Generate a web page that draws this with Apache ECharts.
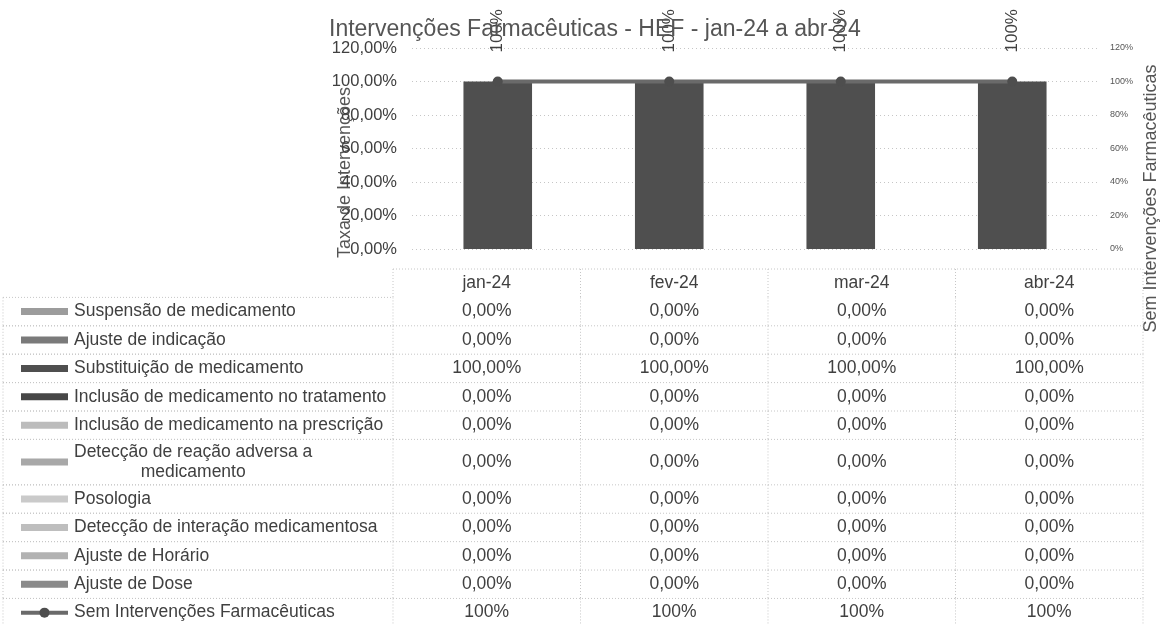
<!DOCTYPE html>
<html>
<head>
<meta charset="utf-8">
<script src="https://cdn.jsdelivr.net/npm/echarts@6/dist/echarts.min.js"></script>
<style>
  html, body { margin: 0; padding: 0; background: #ffffff; }
  #chart { width: 1160px; height: 624px; }
</style>
</head>
<body>
<div id="chart"></div>
<script>
// Months shown on the category axis and as the data-table header
const months = ['jan-24', 'fev-24', 'mar-24', 'abr-24'];

// Share of each type of pharmaceutical intervention (%)
const suspensao = [0, 0, 0, 0];
const ajusteIndicacao = [0, 0, 0, 0];
const substituicao = [100, 100, 100, 100];
const inclusaoTratamento = [0, 0, 0, 0];
const inclusaoPrescricao = [0, 0, 0, 0];
const reacaoAdversa = [0, 0, 0, 0];
const posologia = [0, 0, 0, 0];
const interacao = [0, 0, 0, 0];
const ajusteHorario = [0, 0, 0, 0];
const ajusteDose = [0, 0, 0, 0];

// Months without any pharmaceutical intervention (%), right axis
const semIntervencoes = [100, 100, 100, 100];

// Stacked column series, in table order
const barSeriesDefs = [
  { name: 'Suspensão de medicamento', data: suspensao },
  { name: 'Ajuste de indicação', data: ajusteIndicacao },
  { name: 'Substituição de medicamento', data: substituicao },
  { name: 'Inclusão de medicamento no tratamento', data: inclusaoTratamento },
  { name: 'Inclusão de medicamento na prescrição', data: inclusaoPrescricao },
  { name: 'Detecção de reação adversa a\nmedicamento', data: reacaoAdversa },
  { name: 'Posologia', data: posologia },
  { name: 'Detecção de interação medicamentosa', data: interacao },
  { name: 'Ajuste de Horário', data: ajusteHorario },
  { name: 'Ajuste de Dose', data: ajusteDose }
];
const lineSeriesDef = { name: 'Sem Intervenções Farmacêuticas', data: semIntervencoes };

// Grey shades for each series (same order as above)
const barColors = ['#9c9c9c', '#7a7a7a', '#4f4f4f', '#474747', '#bcbcbc',
                   '#a8a8a8', '#cacaca', '#bebebe', '#b2b2b2', '#8a8a8a'];
const lineColor = '#6a6a6a';
const markerColor = '#4e4e4e';

const FONT = '"Liberation Sans", Arial, sans-serif';
const TEXT = '#404040';
const GRID_LINE = '#c6c6c6';
const TABLE_FONT_SIZE = 17.5;

const pct2 = v => v.toFixed(2).replace('.', ',') + '%';
const pct0 = v => Math.round(v) + '%';

// ---- data table layout (rows in units of one text line) ----
const tableRows = [{ header: true }]
  .concat(barSeriesDefs.map((d, i) => ({ def: d, kind: 'bar', color: barColors[i] })))
  .concat([{ def: lineSeriesDef, kind: 'line' }]);
const rowHeights = tableRows.map(r => (r.def && r.def.name.indexOf('\n') >= 0) ? 1.6 : 1);
const rowTops = [];
rowHeights.reduce((acc, h, i) => { rowTops[i] = acc; return acc + h; }, 0);
const totalUnits = rowHeights.reduce((a, b) => a + b, 0);
const ROW_PX = 28.4;

const measureCtx = document.createElement('canvas').getContext('2d');
measureCtx.font = TABLE_FONT_SIZE + 'px ' + FONT;

function dotted(x1, y1, x2, y2) {
  return {
    type: 'line',
    shape: { x1: x1, y1: y1, x2: x2, y2: y2 },
    style: { stroke: GRID_LINE, lineWidth: 1, lineDash: [1, 2] },
    silent: true
  };
}

function cellText(text, x, y, align) {
  return {
    type: 'text',
    style: { text: text, x: x, y: y, align: align || 'center', verticalAlign: 'middle',
             fontSize: TABLE_FONT_SIZE, fontFamily: FONT, fill: TEXT, lineHeight: 20 }
  };
}

function renderTableRow(params, api) {
  const i = params.dataIndex;
  const row = tableRows[i];
  const cs = params.coordSys;
  const yTop = api.coord([0, rowTops[i]])[1];
  const yBot = api.coord([0, rowTops[i] + rowHeights[i]])[1];
  const yc = (yTop + yBot) / 2;
  const band = api.size([1, 0])[0];
  const children = [];
  const colX = months.map((m, c) => api.coord([c, rowTops[i]])[0]);

  // column separators
  for (let c = 0; c <= months.length; c++) {
    const x = cs.x + c * band;
    children.push(dotted(x, yTop, x, yBot));
  }

  if (row.header) {
    children.push(dotted(cs.x, yTop, cs.x + cs.width, yTop));
    months.forEach((m, c) => children.push(cellText(m, colX[c], yc)));
    return { type: 'group', children: children };
  }

  const labelLeft = 3;
  children.push(dotted(labelLeft, yTop, cs.x, yTop));
  children.push(dotted(labelLeft, yBot, cs.x + cs.width, yBot));
  children.push(dotted(labelLeft, yTop, labelLeft, yBot));

  // legend key
  if (row.kind === 'bar') {
    children.push({ type: 'rect', shape: { x: 21, y: yc - 3.5, width: 47, height: 7 },
                    style: { fill: row.color } });
  } else {
    children.push({ type: 'line', shape: { x1: 21, y1: yc, x2: 68, y2: yc },
                    style: { stroke: lineColor, lineWidth: 4 } });
    children.push({ type: 'circle', shape: { cx: 44.5, cy: yc, r: 5 },
                    style: { fill: markerColor } });
  }

  // series name
  const name = row.def.name;
  const lines = name.split('\n');
  const firstW = measureCtx.measureText(lines[0]).width;
  children.push(lines.length > 1
    ? cellText(name, 74 + firstW / 2, yc, 'center')
    : cellText(name, 74, yc, 'left'));

  // values
  const fmt = row.kind === 'bar' ? pct2 : pct0;
  row.def.data.forEach((v, c) => children.push(cellText(fmt(v), colX[c], yc)));

  return { type: 'group', children: children };
}

const series = barSeriesDefs.map((d, i) => ({
  name: d.name,
  type: 'bar',
  stack: 'intervencoes',
  xAxisIndex: 0,
  yAxisIndex: 0,
  barWidth: '40%',
  data: d.data,
  itemStyle: { color: barColors[i] }
}));

series.push({
  name: lineSeriesDef.name,
  type: 'line',
  xAxisIndex: 0,
  yAxisIndex: 1,
  data: lineSeriesDef.data,
  symbol: 'circle',
  symbolSize: 10,
  lineStyle: { color: lineColor, width: 4 },
  itemStyle: { color: markerColor },
  z: 5,
  label: {
    show: true,
    position: 'top',
    distance: 24,
    rotate: 90,
    align: 'left',
    verticalAlign: 'middle',
    formatter: p => pct0(p.value),
    fontSize: 17,
    fontFamily: FONT,
    color: TEXT
  }
});

series.push({
  type: 'custom',
  xAxisIndex: 1,
  yAxisIndex: 2,
  clip: false,
  silent: true,
  renderItem: renderTableRow,
  data: tableRows.map((r, i) => [0, rowTops[i]])
});

const option = {
  animation: false,
  backgroundColor: '#ffffff',
  textStyle: { fontFamily: FONT },
  title: {
    text: 'Intervenções Farmacêuticas - HEF - jan-24 a abr-24',
    left: 324,
    top: 13,
    textStyle: { fontSize: 23, fontWeight: 'normal', color: '#555555', fontFamily: FONT }
  },
  grid: [
    { left: 412, top: 48, width: 686, height: 201, outerBoundsMode: 'none' },
    { left: 393, top: 269, width: 750, height: totalUnits * ROW_PX, outerBoundsMode: 'none' }
  ],
  xAxis: [
    {
      type: 'category', gridIndex: 0, data: months,
      axisLine: { show: false }, axisTick: { show: false }, axisLabel: { show: false }
    },
    {
      type: 'category', gridIndex: 1, data: months,
      axisLine: { show: false }, axisTick: { show: false }, axisLabel: { show: false },
      splitLine: { show: false }
    }
  ],
  yAxis: [
    {
      type: 'value', gridIndex: 0, min: 0, max: 120, interval: 20,
      name: 'Taxa de Intervenções', nameLocation: 'middle', nameRotate: 90, nameGap: 58,
      nameMoveOverlap: false,
      nameTextStyle: { fontSize: 18, color: '#555555', padding: [0, 48, 0, 0] },
      axisLine: { show: false }, axisTick: { show: false },
      axisLabel: { formatter: pct2, fontSize: 16.5, color: TEXT, margin: 15 },
      splitLine: { show: true, lineStyle: { color: GRID_LINE, type: [1, 3] } }
    },
    {
      type: 'value', gridIndex: 0, position: 'right', min: 0, max: 120, interval: 20,
      name: 'Sem Intervenções Farmacêuticas', nameLocation: 'middle', nameRotate: 90, nameGap: 44,
      nameMoveOverlap: false,
      nameTextStyle: { fontSize: 18, color: '#555555', padding: [0, 100, 0, 0] },
      axisLine: { show: false }, axisTick: { show: false },
      axisLabel: { formatter: pct0, fontSize: 9, color: '#555555', margin: 12 },
      splitLine: { show: false }
    },
    {
      type: 'value', gridIndex: 1, min: 0, max: totalUnits, inverse: true, show: false
    }
  ],
  series: series
};

const chart = echarts.init(document.getElementById('chart'), null, { renderer: 'canvas' });
chart.setOption(option);
</script>
</body>
</html>
